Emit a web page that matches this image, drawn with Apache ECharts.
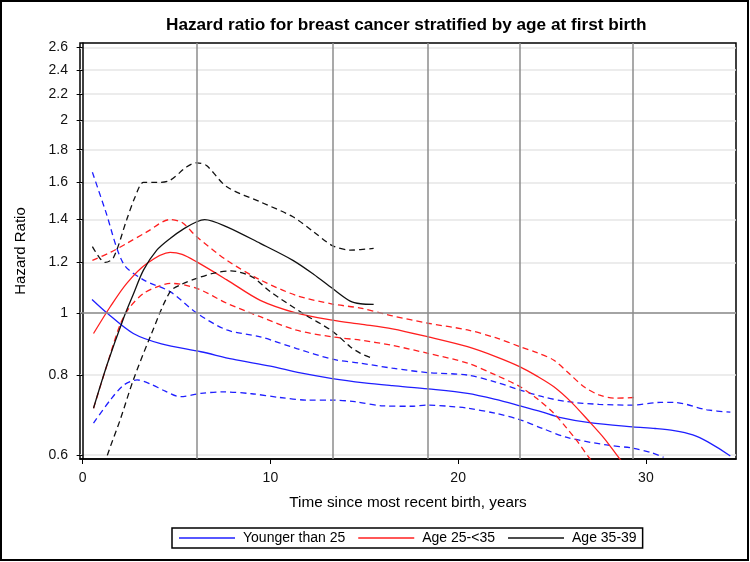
<!DOCTYPE html>
<html>
<head>
<meta charset="utf-8">
<script src="https://cdn.jsdelivr.net/npm/echarts@6/dist/echarts.min.js"></script>
<style>html,body{margin:0;padding:0;background:#fff}#c{width:750px;height:562px}</style>
</head>
<body>
<div id="c"></div>
<script>
// ---- data ----
var xTicks = [0, 10, 20, 30];
var yTicks = [0.6, 0.8, 1, 1.2, 1.4, 1.6, 1.8, 2, 2.2, 2.4, 2.6];
var refLinesX = [6.1, 13.3, 18.4, 23.3, 29.3];
var refLineY = 1;
var seriesNames = ['Younger than 25', 'Age 25-<35', 'Age 35-39'];

var youngEst = [[0.5,1.05],[1.3,1.0],[2.7,0.929],[4.2,0.895],[6.3,0.870],[8,0.847],[10,0.826],[11.6,0.806],[13.3,0.790],[15,0.778],[16.5,0.770],[18.4,0.761],[20.5,0.749],[22,0.733],[23.3,0.716],[24.5,0.700],[25.4,0.687],[27,0.674],[29.3,0.664],[30.5,0.660],[31.5,0.655],[32.5,0.645],[33.3,0.629],[34.5,0.598]];
var youngLo = [[0.58,0.673],[1.47,0.731],[2.2,0.772],[2.9,0.786],[3.6,0.775],[4.4,0.755],[5.2,0.740],[6.3,0.749],[7.5,0.753],[9,0.748],[10.5,0.738],[12,0.731],[13.3,0.731],[14.5,0.727],[16,0.716],[17.5,0.715],[18.4,0.718],[19.5,0.715],[20.5,0.710],[22,0.697],[23.3,0.681],[24.5,0.660],[25.8,0.639],[27.9,0.622],[29.3,0.615],[30.3,0.605],[30.94,0.595]];
var youngHi = [[0.52,1.66],[1.2,1.45],[2.17,1.195],[3.24,1.127],[4.66,1.08],[6.08,1.0],[7.68,0.941],[9.46,0.918],[11.4,0.88],[13.3,0.847],[14.8,0.835],[16.5,0.82],[18.4,0.807],[20.5,0.80],[22,0.78],[23.3,0.758],[24.5,0.74],[25.8,0.727],[27.5,0.72],[29.3,0.718],[30.77,0.725],[31.5,0.725],[33.25,0.706],[34.5,0.70]];

var midEst = [[0.58,0.929],[1.47,1.023],[2.35,1.113],[3.42,1.195],[4.66,1.244],[5.3,1.235],[6.08,1.202],[7.68,1.127],[9.46,1.047],[11.4,1.0],[13.3,0.975],[14.8,0.961],[16.5,0.945],[18.4,0.918],[20.5,0.886],[22,0.855],[23.3,0.824],[24.2,0.797],[25.1,0.767],[26,0.727],[26.9,0.681],[27.8,0.636],[28.6,0.592],[29,0.575]];
var midLo = [[0.58,0.71],[1.3,0.83],[2.0,0.96],[2.5,1.02],[3.24,1.073],[4.0,1.1],[4.66,1.113],[6.08,1.093],[7.68,1.036],[9.46,0.987],[11.4,0.94],[13.3,0.918],[14.8,0.907],[16.5,0.89],[18.4,0.865],[20.5,0.835],[22,0.80],[23.3,0.767],[24.2,0.735],[25.1,0.697],[25.8,0.66],[26.3,0.633],[27.0,0.593],[27.3,0.58]];
var midHi = [[0.52,1.209],[1.5,1.245],[2.35,1.285],[3.42,1.339],[4.66,1.40],[5.3,1.385],[6.08,1.316],[7.68,1.209],[9.46,1.127],[11.4,1.065],[13.3,1.033],[14.8,1.018],[16.5,0.99],[18.4,0.964],[20.5,0.941],[22,0.915],[23.3,0.886],[24.2,0.867],[25.1,0.844],[25.9,0.805],[26.7,0.767],[27.5,0.745],[28.3,0.736],[29.4,0.738]];

var oldEst = [[0.58,0.71],[1.3,0.83],[2.17,0.98],[2.7,1.07],[3.24,1.167],[3.95,1.254],[4.66,1.308],[5.4,1.355],[6.08,1.389],[6.5,1.40],[7.68,1.364],[9.46,1.285],[11.2,1.209],[12.3,1.15],[13.3,1.093],[14.25,1.044],[14.8,1.034],[15.5,1.032]];
var oldLo = [[0.9,0.54],[1.29,0.596],[2.0,0.681],[2.7,0.786],[3.6,0.918],[4.66,1.08],[5.3,1.11],[6.08,1.133],[7.0,1.155],[7.9,1.164],[9.0,1.14],[10,1.08],[11.7,1.0],[13.3,0.937],[14.25,0.886],[14.8,0.865],[15.5,0.848]];
var oldHi = [[0.52,1.27],[0.9,1.22],[1.2,1.20],[1.64,1.22],[2.35,1.40],[2.8,1.52],[3.24,1.60],[3.95,1.60],[4.66,1.613],[5.55,1.693],[6.08,1.717],[6.6,1.70],[7.68,1.575],[9.46,1.492],[11.2,1.414],[12.3,1.34],[13.3,1.275],[14.25,1.254],[15.5,1.262]];

var colors = ['#1f1fff', '#ff1f1f', '#111111'];
var FONT = '"Liberation Sans", Arial, sans-serif';

function lineSeries(name, data, color, dashed) {
  return {
    name: name,
    type: 'line',
    data: data,
    smooth: 0.3,
    symbol: 'none',
    z: 3,
    clip: true,
    silent: true,
    lineStyle: { color: color, width: 1.3, type: dashed ? [6, 4] : 'solid' },
    itemStyle: { color: color }
  };
}

var chart = echarts.init(document.getElementById('c'), null, { renderer: 'canvas' });
var option = {
  animation: false,
  backgroundColor: '#fff',
  textStyle: { fontFamily: FONT },
  title: {
    text: 'Hazard ratio for breast cancer stratified by age at first birth',
    left: 161,
    top: 12,
    textStyle: { fontFamily: FONT, fontSize: 17.2, fontWeight: 'bold', color: '#000' }
  },
  grid: {
    left: 80, right: 14, top: 43, bottom: 103,
    show: true, borderColor: '#000', borderWidth: 1.5, backgroundColor: 'transparent'
  },
  legend: {
    data: seriesNames,
    icon: 'rect',
    left: 172,
    top: 528,
    padding: [3, 6, 3, 7],
    itemGap: 13,
    itemWidth: 56,
    itemHeight: 1.5,
    borderColor: '#000',
    borderWidth: 1.5,
    textStyle: { fontFamily: FONT, fontSize: 14, color: '#000', padding: [0, 0, 0, 3] }
  },
  xAxis: {
    type: 'value',
    min: -0.14,
    max: 34.8,
    name: 'Time since most recent birth, years',
    nameLocation: 'middle',
    nameGap: 36,
    nameTextStyle: { fontFamily: FONT, fontSize: 15.3, color: '#000' },
    axisLine: { show: true, lineStyle: { color: '#000', width: 1.5 } },
    axisTick: { show: true, inside: false, length: 5, lineStyle: { color: '#000' }, customValues: xTicks },
    axisLabel: { customValues: xTicks, margin: 12, fontFamily: FONT, fontSize: 14, color: '#111' },
    splitLine: { show: false }
  },
  yAxis: {
    type: 'log',
    logBase: 10,
    min: 0.5914,
    max: 2.643,
    name: 'Hazard Ratio',
    nameLocation: 'middle',
    nameRotate: 90,
    nameGap: 52,
    nameTextStyle: { fontFamily: FONT, fontSize: 15, color: '#000' },
    axisLine: { show: true, lineStyle: { color: '#000', width: 1.5 } },
    axisTick: { show: true, inside: false, length: 6, lineStyle: { color: '#000' }, customValues: yTicks },
    axisLabel: {
      customValues: yTicks, margin: 12, fontFamily: FONT, fontSize: 14, color: '#111',
      formatter: function (v) { return String(+(+v).toFixed(2)); }
    },
    splitLine: { show: true, lineStyle: { color: '#e6e6e6', width: 1.5 } },
    minorTick: { show: false },
    minorSplitLine: { show: false }
  },
  series: [
    {
      name: 'ref',
      type: 'line',
      data: [[refLinesX[0], refLineY]],
      symbol: 'none',
      silent: true,
      z: 1,
      lineStyle: { opacity: 0 },
      markLine: {
        silent: true,
        symbol: ['none', 'none'],
        label: { show: false },
        animation: false,
        lineStyle: { color: '#8c8c8c', width: 1.5, type: 'solid' },
        data: refLinesX.map(function (x) { return { xAxis: x }; }).concat([{ yAxis: refLineY }])
      }
    },
    lineSeries(seriesNames[0], youngEst, colors[0], false),
    lineSeries(seriesNames[0] + ' lower', youngLo, colors[0], true),
    lineSeries(seriesNames[0] + ' upper', youngHi, colors[0], true),
    lineSeries(seriesNames[1], midEst, colors[1], false),
    lineSeries(seriesNames[1] + ' lower', midLo, colors[1], true),
    lineSeries(seriesNames[1] + ' upper', midHi, colors[1], true),
    lineSeries(seriesNames[2], oldEst, colors[2], false),
    lineSeries(seriesNames[2] + ' lower', oldLo, colors[2], true),
    lineSeries(seriesNames[2] + ' upper', oldHi, colors[2], true)
  ],
  graphic: [{
    type: 'rect',
    silent: true,
    shape: { x: 1, y: 1, width: 747, height: 559 },
    style: { fill: 'none', stroke: '#000', lineWidth: 2 }
  }]
};
chart.setOption(option);
</script>
</body>
</html>
